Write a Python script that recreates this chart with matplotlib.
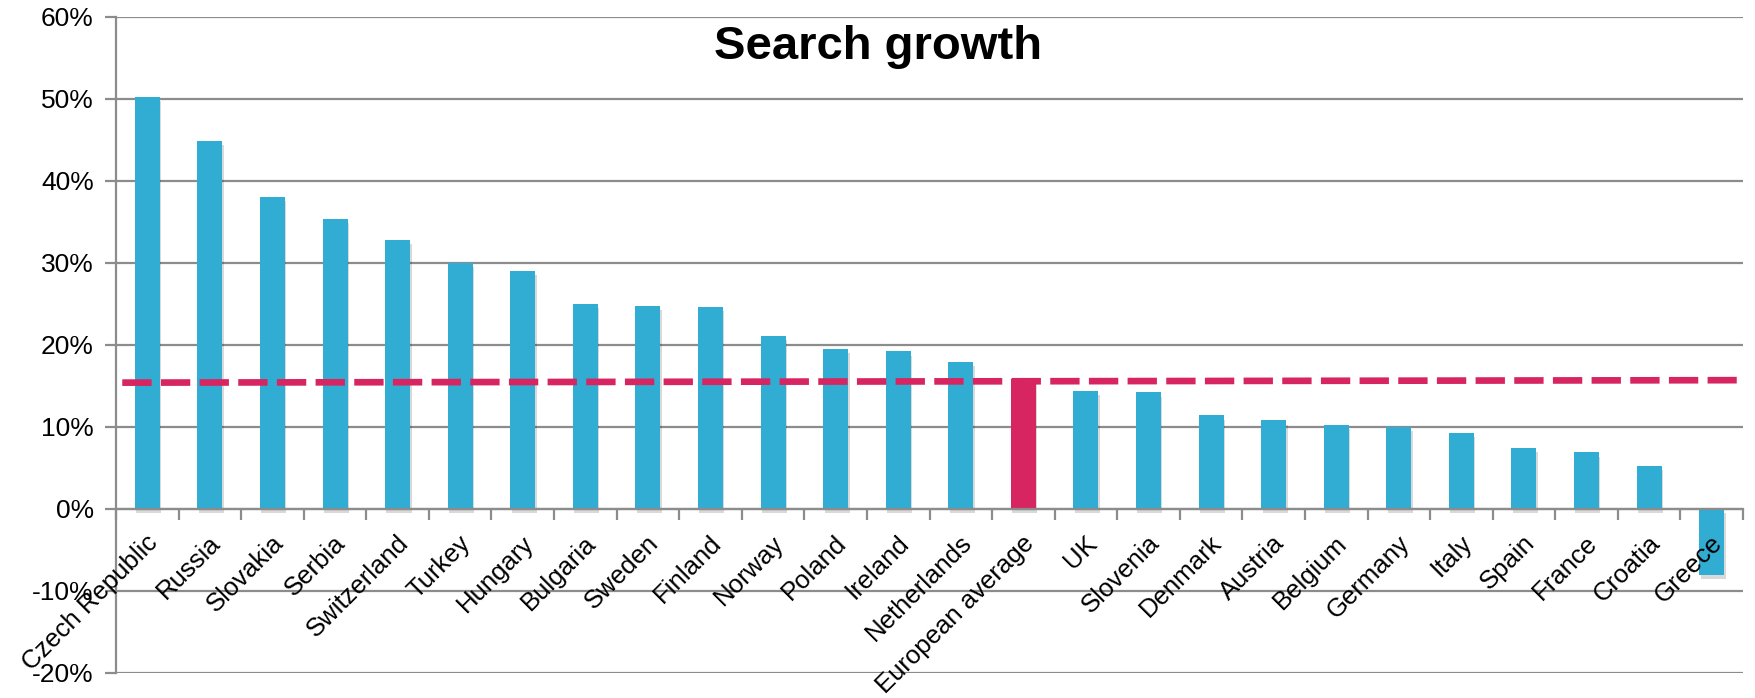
import numpy as np
import matplotlib
matplotlib.use("Agg")
import matplotlib.pyplot as plt
from matplotlib.ticker import FixedLocator, PercentFormatter
import matplotlib.patheffects as pe
import matplotlib.transforms as mtransforms

plt.rcParams['font.family'] = ['Liberation Sans', 'DejaVu Sans']
plt.rcParams['axes.unicode_minus'] = False

countries = ["Czech Republic", "Russia", "Slovakia", "Serbia", "Switzerland", "Turkey",
             "Hungary", "Bulgaria", "Sweden", "Finland", "Norway", "Poland", "Ireland",
             "Netherlands", "European average", "UK", "Slovenia", "Denmark", "Austria",
             "Belgium", "Germany", "Italy", "Spain", "France", "Croatia", "Greece"]
growth = [50.2, 44.9, 38.0, 35.4, 32.8, 30.0, 29.0, 25.0, 24.8, 24.6, 21.1, 19.5, 19.2,
          17.9, 15.8, 14.4, 14.2, 11.4, 10.8, 10.2, 10.0, 9.3, 7.4, 6.9, 5.2, -8.0]
highlight = "European average"
# dashed average line, value at left and right end
avg_line = [15.4, 15.7]

BLUE = "#31acd2"
PINK = "#d62561"
GRID = "#8c8c8c"

fig = plt.figure(figsize=(17.56, 6.98), dpi=100)
ax = fig.add_axes([116/1756, 1-673/698, (1743-116)/1756, (673-16.8)/698])

n = len(countries)
x = np.arange(n)
colors = [PINK if c == highlight else BLUE for c in countries]
bars = ax.bar(x, growth, width=0.4, color=colors, zorder=3)
for b in bars:
    b.set_path_effects([pe.SimplePatchShadow(offset=(1, -3), shadow_rgbFace="#000000", alpha=0.15),
                        pe.Normal()])

ax.plot([-0.4, n - 0.6], avg_line, color=PINK, lw=4.8, dashes=(4.4, 1.4), zorder=4,
        solid_capstyle='butt', dash_capstyle='butt')

ax.set_xlim(-0.5, n - 0.5)
ax.set_ylim(-20, 60)
ax.yaxis.set_major_locator(FixedLocator(np.arange(-20, 61, 10)))
ax.yaxis.set_major_formatter(PercentFormatter(decimals=0))
ax.grid(axis='y', color=GRID, lw=1.6, zorder=0)

for s in ['top', 'right']:
    ax.spines[s].set_visible(False)
ax.spines['left'].set_color(GRID)
ax.spines['left'].set_linewidth(1.6)
ax.spines['bottom'].set_position(('data', 0))
ax.spines['bottom'].set_color(GRID)
ax.spines['bottom'].set_linewidth(1.6)
ax.spines['bottom'].set_zorder(5)

ax.set_xticks(x)
ax.set_xticks(np.arange(n + 1) - 0.5, minor=True)
ax.tick_params(axis='x', which='major', length=0, pad=6)
ax.tick_params(axis='x', which='minor', length=8, width=1.6, color=GRID, direction='out')
ax.tick_params(axis='y', length=8, width=1.6, color=GRID, labelsize=19, pad=8)
# category labels sit on top of the bars (Greece overlaps its bar)
ax.xaxis.set_zorder(6)

ax.set_xticklabels(countries, rotation=45, ha='right', va='center', rotation_mode='anchor',
                   fontsize=18.5)
offset = mtransforms.ScaledTranslation(7/100, -22/100, fig.dpi_scale_trans)
for lbl in ax.get_xticklabels():
    lbl.set_transform(lbl.get_transform() + offset)

fig.text(878/1756, 1-59/698, "Search growth", ha='center', va='baseline',
         fontsize=34, fontweight='bold')

fig.savefig("out.png", dpi=100)
